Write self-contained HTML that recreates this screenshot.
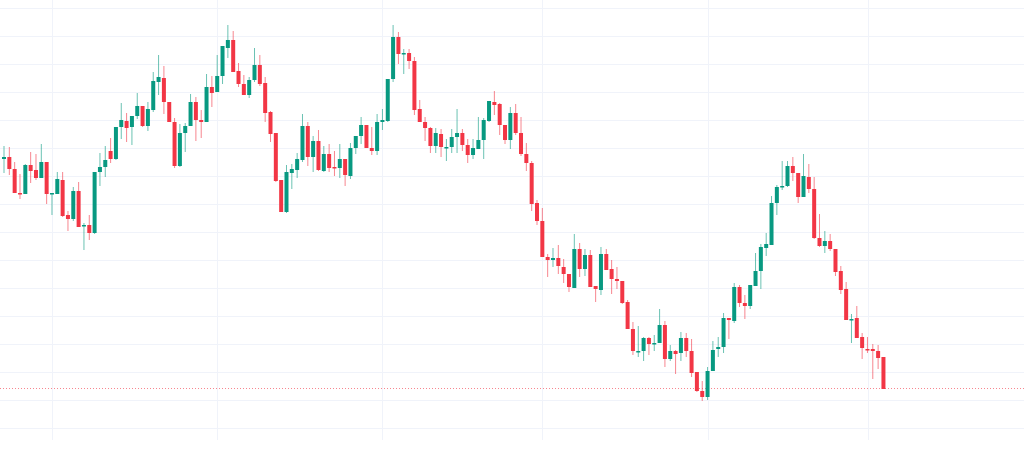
<!DOCTYPE html>
<html><head><meta charset="utf-8"><style>
html,body{margin:0;padding:0;background:#fff;}
svg{display:block;}
</style></head><body>
<svg id="c" width="1024" height="449" xmlns="http://www.w3.org/2000/svg"></svg>
<script>
var d=[
"g,157,159,146,173","r,157,169,147,175","r,169,193,162,193","r,193,193,174,199","g,165,194,164,194","r,165,171,152,183","r,170,178,154,180","g,162,178,144,178","r,162,194,162,204","g,193,193,193,215",
"g,179,194,172,194","r,180,216,172,217","r,215,219,211,231","g,191,219,187,221","r,191,227,182,227","g,225,225,223,250","r,225,233,215,240","g,172,233,172,234","g,167,172,153,186","g,160,167,146,177",
"r,151,159,138,163","g,127,159,127,160","g,120,127,103,139","r,121,128,113,142","g,116,127,116,145","g,106,116,93,119","r,106,126,106,127","g,109,126,102,131","g,81,110,72,112","g,77,82,55,95",
"r,78,102,66,114","r,102,122,102,122","r,122,166,118,168","g,133,166,124,167","g,126,133,123,152","g,102,126,94,126","r,102,120,97,141","r,120,122,110,138","g,87,122,74,122","r,87,93,76,107",
"g,76,92,55,92","g,46,76,46,84","g,40,48,25,58","r,40,72,31,72","r,71,84,63,87","r,84,95,75,95","g,80,95,77,98","g,65,80,48,82","r,65,84,55,86","r,83,113,77,122",
"r,112,134,111,142","r,133,181,133,182","r,180,212,180,212","g,172,212,165,213","g,169,173,164,189","g,159,170,153,178","g,126,160,114,162","r,126,157,122,166","g,141,157,136,172","r,141,170,130,171",
"g,154,171,146,172","r,154,168,144,172","r,167,167,151,176","g,159,168,144,178","r,159,175,159,186","g,148,176,143,179","g,136,148,136,154","g,125,136,117,144","r,125,148,125,148","r,148,151,127,155",
"g,122,151,114,155","g,120,122,109,130","g,79,121,79,122","g,37,79,25,82","r,37,54,32,64","g,53,53,49,74","r,53,61,49,69","r,61,110,57,115","r,109,122,100,122","r,122,128,117,141",
"r,128,146,127,153","g,133,146,128,153","r,134,147,129,157","g,147,147,139,161","g,137,147,129,153","g,133,137,109,153","r,133,145,129,151","r,145,155,139,163","g,148,155,139,159","g,140,149,117,149",
"g,120,140,118,159","g,101,121,101,122","r,102,105,91,115","r,104,125,103,135","r,125,140,125,144","g,113,140,107,149","r,113,133,104,135","r,133,154,117,156","r,154,163,143,171","r,163,204,161,211",
"r,203,221,200,225","r,221,257,208,257","r,257,260,254,277","g,258,260,248,267","r,258,266,245,274","r,267,274,259,283","r,274,287,274,292","g,249,288,234,288","r,249,269,243,277","g,255,269,249,276",
"r,255,287,250,287","r,286,289,286,302","g,254,290,247,295","r,254,270,249,270","r,269,279,260,294","r,279,281,267,289","r,281,303,281,304","r,302,329,300,329","r,329,351,322,355","g,351,351,326,357",
"g,338,351,337,361","r,338,344,337,355","g,343,343,335,351","g,325,343,309,343","r,325,359,321,367","g,351,359,345,361","r,351,354,350,374","g,338,353,332,361","r,338,351,333,357","r,351,373,339,377",
"r,372,391,372,392","r,391,397,381,401","g,371,397,367,400","g,350,371,341,371","g,347,349,337,357","g,318,347,313,353","r,318,320,318,339","g,287,321,283,323","r,287,303,285,307","r,303,306,295,319",
"g,285,306,285,309","g,271,286,253,286","g,247,271,244,289","g,244,248,233,256","g,203,245,196,245","g,187,203,185,215","g,186,186,161,190","g,166,186,161,187","r,166,173,157,181","r,173,197,173,203",
"g,176,197,154,197","r,177,189,164,193","r,189,238,177,239","r,238,246,214,247","g,241,246,231,253","r,241,249,234,251","r,249,272,249,276","r,271,290,266,294","r,289,320,282,320","g,319,319,314,343",
"r,318,338,306,338","r,337,348,333,359","r,349,349,337,353","r,349,351,344,379","r,351,358,345,369","r,357,389,357,389"];
var s='';
// grid
for(var y=8;y<449;y+=28) s+='<line x1="0" x2="1024" y1="'+(y+0.5)+'" y2="'+(y+0.5)+'" stroke="#f0f3fa" stroke-width="1"/>';
[52,217,382,542,708,868].forEach(function(x){s+='<line x1="'+(x+0.5)+'" x2="'+(x+0.5)+'" y1="0" y2="440" stroke="#f0f3fa" stroke-width="1"/>';});
s+='<line x1="0" x2="1024" y1="388.5" y2="388.5" stroke="#f23645" stroke-opacity="0.6" stroke-width="1" stroke-dasharray="1,2"/>';
d.forEach(function(r,i){
 var p=r.split(','),col=p[0]=='g'?'#089981':'#f23645';
 var b1=+p[1],b2=+p[2],w1=+p[3],w2=+p[4];
 var x=4+i*5.33;
 s+='<rect x="'+(x-0.5).toFixed(2)+'" y="'+w1+'" width="1" height="'+Math.max(1,w2-w1)+'" fill="'+col+'" fill-opacity="0.6"/>';
 s+='<rect x="'+(x-2).toFixed(2)+'" y="'+b1+'" width="4" height="'+Math.max(1.5,b2-b1)+'" fill="'+col+'"/>';
});
document.getElementById('c').innerHTML=s;
</script>
</body></html>
